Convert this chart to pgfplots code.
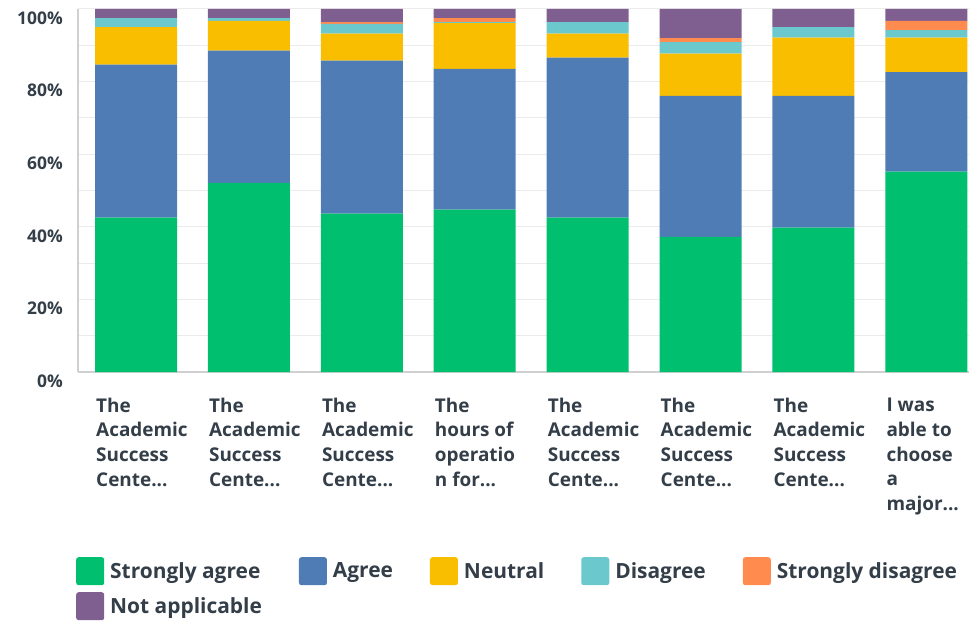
\documentclass[border=0pt]{standalone}
\usepackage{fontspec}
\setmainfont{Open Sans}
\usepackage{pgfplots}
\pgfplotsset{compat=1.18}
\definecolor{sa}{HTML}{00BF6F}
\definecolor{ag}{HTML}{507CB6}
\definecolor{ne}{HTML}{F9BE00}
\definecolor{di}{HTML}{6BC8CD}
\definecolor{sd}{HTML}{FF8B4F}
\definecolor{na}{HTML}{7F5F90}
\definecolor{txt}{HTML}{333E48}
\definecolor{gridc}{HTML}{EBEBEB}
\definecolor{axl}{HTML}{D0D0D0}
\newcommand{\el}{.\kern0pt.\kern0pt.}
\pgfplotsset{leg/.style={legend image code/.code={\path[fill, draw=none, rounded corners=2.5bp] (0bp,-14bp) rectangle (28bp,14bp); \path (34bp,0bp);}}}
\begin{document}
\begin{tikzpicture}
\useasboundingbox (-78bp,-250bp) rectangle (891bp,372bp);
\begin{axis}[
  scale only axis, width=891bp, height=363bp,
  ybar stacked, bar width=82bp,
  xmin=-0.514, xmax=7.378, ymin=0, ymax=100,
  xtick={0,1,2,3,4,5,6,7},
  xticklabels={{The\\Academic\\Success\\Cente\el},{The\\Academic\\Success\\Cente\el},{The\\Academic\\Success\\Cente\el},{The\\hours of\\operatio\\n for\el},{The\\Academic\\Success\\Cente\el},{The\\Academic\\Success\\Cente\el},{The\\Academic\\Success\\Cente\el},{I was\\able to\\choose\\a\\major\el}},
  xticklabel style={anchor=north west, align=left, inner sep=0pt, xshift=-40bp, yshift=-25.5bp, font=\fontsize{19}{25}\selectfont\bfseries, text=txt},
  ytick={0,20,40,60,80,100},
  minor ytick={10,30,50,70,90},
  yticklabels={0\%,20\%,40\%,60\%,80\%,100\%},
  yticklabel style={inner sep=0pt, xshift=-15bp, yshift=-9bp, font=\fontsize{17.5}{20}\selectfont\bfseries, text=txt},
  /pgf/number format/assume math mode=true,
  ymajorgrids, yminorgrids,
  major grid style={draw=gridc, line width=1bp},
  minor grid style={draw=gridc, line width=1bp},
  axis x line*=bottom, axis y line*=left,
  axis line style={draw=axl, line width=1.2bp},
  major tick length=0pt, minor tick length=0pt,
  legend columns=5,
  legend cell align=left,
  legend style={draw=none, fill=none, at={(axis description cs:0,0)}, anchor=north west, xshift=-2bp, yshift=-185bp, inner sep=0pt, row sep=7bp, font=\fontsize{21}{24}\selectfont\bfseries, text=txt, nodes={inner sep=0pt}, /tikz/every even column/.append style={column sep=37bp}},
]
\addplot[fill=sa, draw=none, leg] coordinates {(0,42.5) (1,52.1) (2,43.6) (3,44.7) (4,42.5) (5,37.2) (6,39.8) (7,55.2)};
\addplot[fill=ag, draw=none, leg] coordinates {(0,42.2) (1,36.4) (2,42.2) (3,38.8) (4,44.1) (5,38.9) (6,36.3) (7,27.4)};
\addplot[fill=ne, draw=none, leg] coordinates {(0,10.3) (1,8.2) (2,7.4) (3,12.6) (4,6.6) (5,11.6) (6,16.0) (7,9.5)};
\addplot[fill=di, draw=none, leg] coordinates {(0,2.5) (1,0.8) (2,2.7) (3,0.3) (4,3.2) (5,3.2) (6,2.9) (7,2.1)};
\addplot[fill=sd, draw=none, leg] coordinates {(0,0) (1,0) (2,0.5) (3,1.1) (4,0) (5,1.1) (6,0) (7,2.5)};
\addplot[fill=na, draw=none, leg] coordinates {(0,2.5) (1,2.5) (2,3.6) (3,2.5) (4,3.6) (5,8.0) (6,5.0) (7,3.3)};
\legend{Strongly agree, Agree, Neutral, Disagree, Strongly disagree, Not applicable}
\end{axis}
\end{tikzpicture}
\end{document}
